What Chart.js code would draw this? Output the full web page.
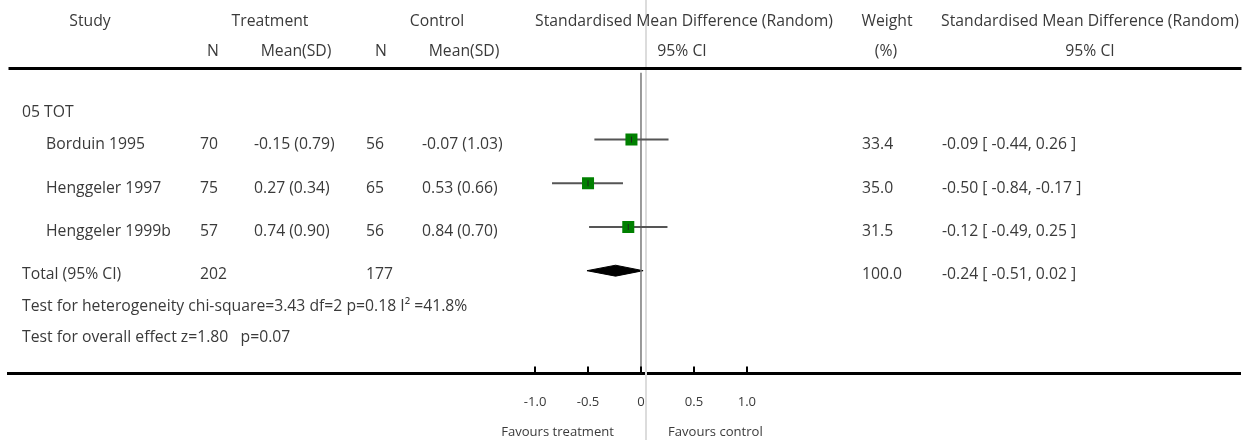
<!DOCTYPE html>
<html>
<head>
<meta charset="utf-8">
<script src="https://cdn.jsdelivr.net/npm/chart.js@4.4.1/dist/chart.umd.min.js"></script>
<style>
  html, body { margin: 0; padding: 0; background: #fff; }
  #wrap { width: 1249px; height: 440px; }
</style>
</head>
<body>
<div id="wrap"><canvas id="forest"></canvas></div>
<script>
// forest plot data
var studies = ['Borduin 1995', 'Henggeler 1997', 'Henggeler 1999b'];
var treatN = [70, 75, 57];
var treatMeanSD = ['-0.15 (0.79)', '0.27 (0.34)', '0.74 (0.90)'];
var ctrlN = [56, 65, 56];
var ctrlMeanSD = ['-0.07 (1.03)', '0.53 (0.66)', '0.84 (0.70)'];
var smd = [-0.09, -0.50, -0.12];
var lower = [-0.44, -0.84, -0.49];
var upper = [0.26, -0.17, 0.25];
var weights = [33.4, 35.0, 31.5];
var totalN = [202, 177];
var totalSmd = [-0.24];
var totalCI = [-0.51, 0.02];
var totalWeight = [100.0];
var tickValues = [-1, -0.5, 0, 0.5, 1];
var tickLabels = ['-1.0', '-0.5', '0', '0.5', '1.0'];

var FONT = '"Open Sans", Lato, sans-serif';
var TXT = '#3a3a3a';

// pick a font size so the long header is as wide as in the original (~298px)
var mctx = document.createElement('canvas').getContext('2d');
mctx.font = '15px ' + FONT;
var SIZE = Math.min(16, 15 * 298 / mctx.measureText('Standardised Mean Difference (Random)').width);
mctx.font = '13px ' + FONT;
var SMALL = Math.min(14, 13 * 113 / mctx.measureText('Favours treatment').width);

function fmt(v) { return v.toFixed(2); }

var datasets = [];
// little vertical mark at each point estimate
datasets.push({
  data: smd.map(function (v, i) { return { x: v, y: i + 1 }; }),
  pointStyle: 'line', rotation: 90, pointRadius: 3,
  borderColor: '#222', borderWidth: 1
});
// squares
datasets.push({
  data: smd.map(function (v, i) { return { x: v, y: i + 1 }; }),
  pointStyle: 'rect', pointRadius: 8.5,
  backgroundColor: '#008000', borderWidth: 0
});
// confidence intervals
for (var i = 0; i < studies.length; i++) {
  datasets.push({
    data: [{ x: lower[i], y: i + 1 }, { x: upper[i], y: i + 1 }],
    showLine: true, pointRadius: 0,
    borderColor: '#555', borderWidth: 2
  });
}
// zero line, from the top rule down to the axis
datasets.push({
  data: [{ x: 0, y: -0.53 }, { x: 0, y: 6.35 }],
  showLine: true, pointRadius: 0,
  borderColor: '#777', borderWidth: 1.5
});
// pooled diamond
var dh = 0.125;
datasets.push({
  data: [
    { x: totalCI[0], y: 4 }, { x: totalSmd[0], y: 4 - dh },
    { x: totalCI[1], y: 4 }, { x: totalSmd[0], y: 4 + dh },
    { x: totalCI[0], y: 4 }
  ],
  showLine: true, pointRadius: 0, tension: 0,
  borderColor: '#000', borderWidth: 1,
  backgroundColor: '#000', fill: 'shape'
});

function txt(ctx, s, x, y, align, size) {
  ctx.font = (size || SIZE) + 'px ' + FONT;
  ctx.textAlign = align || 'left';
  ctx.fillText(s, x, y + 1.5);
}

var forestText = {
  id: 'forestText',
  beforeDatasetsDraw: function (chart) {
    var ctx = chart.ctx, xs = chart.scales.x;
    var zx = xs.getPixelForValue(0);
    ctx.save();
    ctx.strokeStyle = '#dcdcdc';
    ctx.lineWidth = 2;
    ctx.beginPath();
    ctx.moveTo(zx + 5, 0);
    ctx.lineTo(zx + 5, chart.height);
    ctx.stroke();
    ctx.restore();
  },
  afterDraw: function (chart) {
    var ctx = chart.ctx, xs = chart.scales.x, ys = chart.scales.y;
    var ca = chart.chartArea;
    ctx.save();
    // top rule
    ctx.strokeStyle = '#000';
    ctx.lineWidth = 3;
    ctx.beginPath();
    ctx.moveTo(ca.left, 68.5);
    ctx.lineTo(ca.right + 1, 68.5);
    ctx.stroke();
    // tick marks pointing up
    ctx.lineWidth = 2;
    xs.ticks.forEach(function (t) {
      var px = Math.round(xs.getPixelForValue(t.value));
      ctx.beginPath();
      ctx.moveTo(px, ca.bottom - 7);
      ctx.lineTo(px, ca.bottom);
      ctx.stroke();
    });

    ctx.fillStyle = TXT;
    ctx.textBaseline = 'middle';
    // headers
    txt(ctx, 'Study', 90, 20, 'center');
    txt(ctx, 'Treatment', 270, 20, 'center');
    txt(ctx, 'Control', 437, 20, 'center');
    txt(ctx, 'Standardised Mean Difference (Random)', 684, 20, 'center');
    txt(ctx, 'Weight', 887, 20, 'center');
    txt(ctx, 'Standardised Mean Difference (Random)', 1090, 20, 'center');
    txt(ctx, 'N', 213, 50, 'center');
    txt(ctx, 'Mean(SD)', 296, 50, 'center');
    txt(ctx, 'N', 381, 50, 'center');
    txt(ctx, 'Mean(SD)', 464, 50, 'center');
    txt(ctx, '95% CI', 682, 50, 'center');
    txt(ctx, '(%)', 886, 50, 'center');
    txt(ctx, '95% CI', 1090, 50, 'center');

    txt(ctx, '05 TOT', 22, 111);
    for (var i = 0; i < studies.length; i++) {
      var y = ys.getPixelForValue(i + 1) + 3.5;
      txt(ctx, studies[i], 46, y);
      txt(ctx, String(treatN[i]), 200, y);
      txt(ctx, treatMeanSD[i], 254, y);
      txt(ctx, String(ctrlN[i]), 366, y);
      txt(ctx, ctrlMeanSD[i], 422, y);
      txt(ctx, weights[i].toFixed(1), 862, y);
      txt(ctx, fmt(smd[i]) + ' [ ' + fmt(lower[i]) + ', ' + fmt(upper[i]) + ' ]', 942, y);
    }
    var ty = ys.getPixelForValue(4) + 2.5;
    txt(ctx, 'Total (95% CI)', 22, ty);
    txt(ctx, String(totalN[0]), 200, ty);
    txt(ctx, String(totalN[1]), 366, ty);
    txt(ctx, totalWeight[0].toFixed(1), 862, ty);
    txt(ctx, fmt(totalSmd[0]) + ' [ ' + fmt(totalCI[0]) + ', ' + fmt(totalCI[1]) + ' ]', 942, ty);
    txt(ctx, 'Test for heterogeneity chi-square=3.43 df=2 p=0.18 I\u00b2 =41.8%', 22, 305);
    txt(ctx, 'Test for overall effect z=1.80   p=0.07', 22, 336);

    var zx = xs.getPixelForValue(0);
    txt(ctx, 'Favours treatment', zx - 27, 431, 'right', SMALL);
    txt(ctx, 'Favours control', zx + 27, 431, 'left', SMALL);
    ctx.restore();
  }
};

new Chart(document.getElementById('forest'), {
  type: 'scatter',
  data: { datasets: datasets },
  options: {
    responsive: true,
    maintainAspectRatio: false,
    animation: false,
    layout: { padding: { left: 8, right: 8, top: 5.5, bottom: 8.9 } },
    plugins: { legend: { display: false }, tooltip: { enabled: false } },
    scales: {
      x: {
        type: 'linear',
        min: -633 / 106,
        max: 600 / 106,
        afterBuildTicks: function (axis) {
          axis.ticks = tickValues.map(function (v) { return { value: v }; });
        },
        ticks: {
          autoSkip: false,
          maxRotation: 0,
          padding: 21,
          color: TXT,
          font: { family: FONT, size: SMALL },
          callback: function (v) { return tickLabels[tickValues.indexOf(v)]; }
        },
        grid: { display: false, drawTicks: false },
        border: { display: true, color: '#000', width: 3 }
      },
      y: {
        type: 'linear',
        reverse: true,
        min: -2,
        max: 6.35,
        display: false
      }
    }
  },
  plugins: [forestText]
});
</script>
</body>
</html>
